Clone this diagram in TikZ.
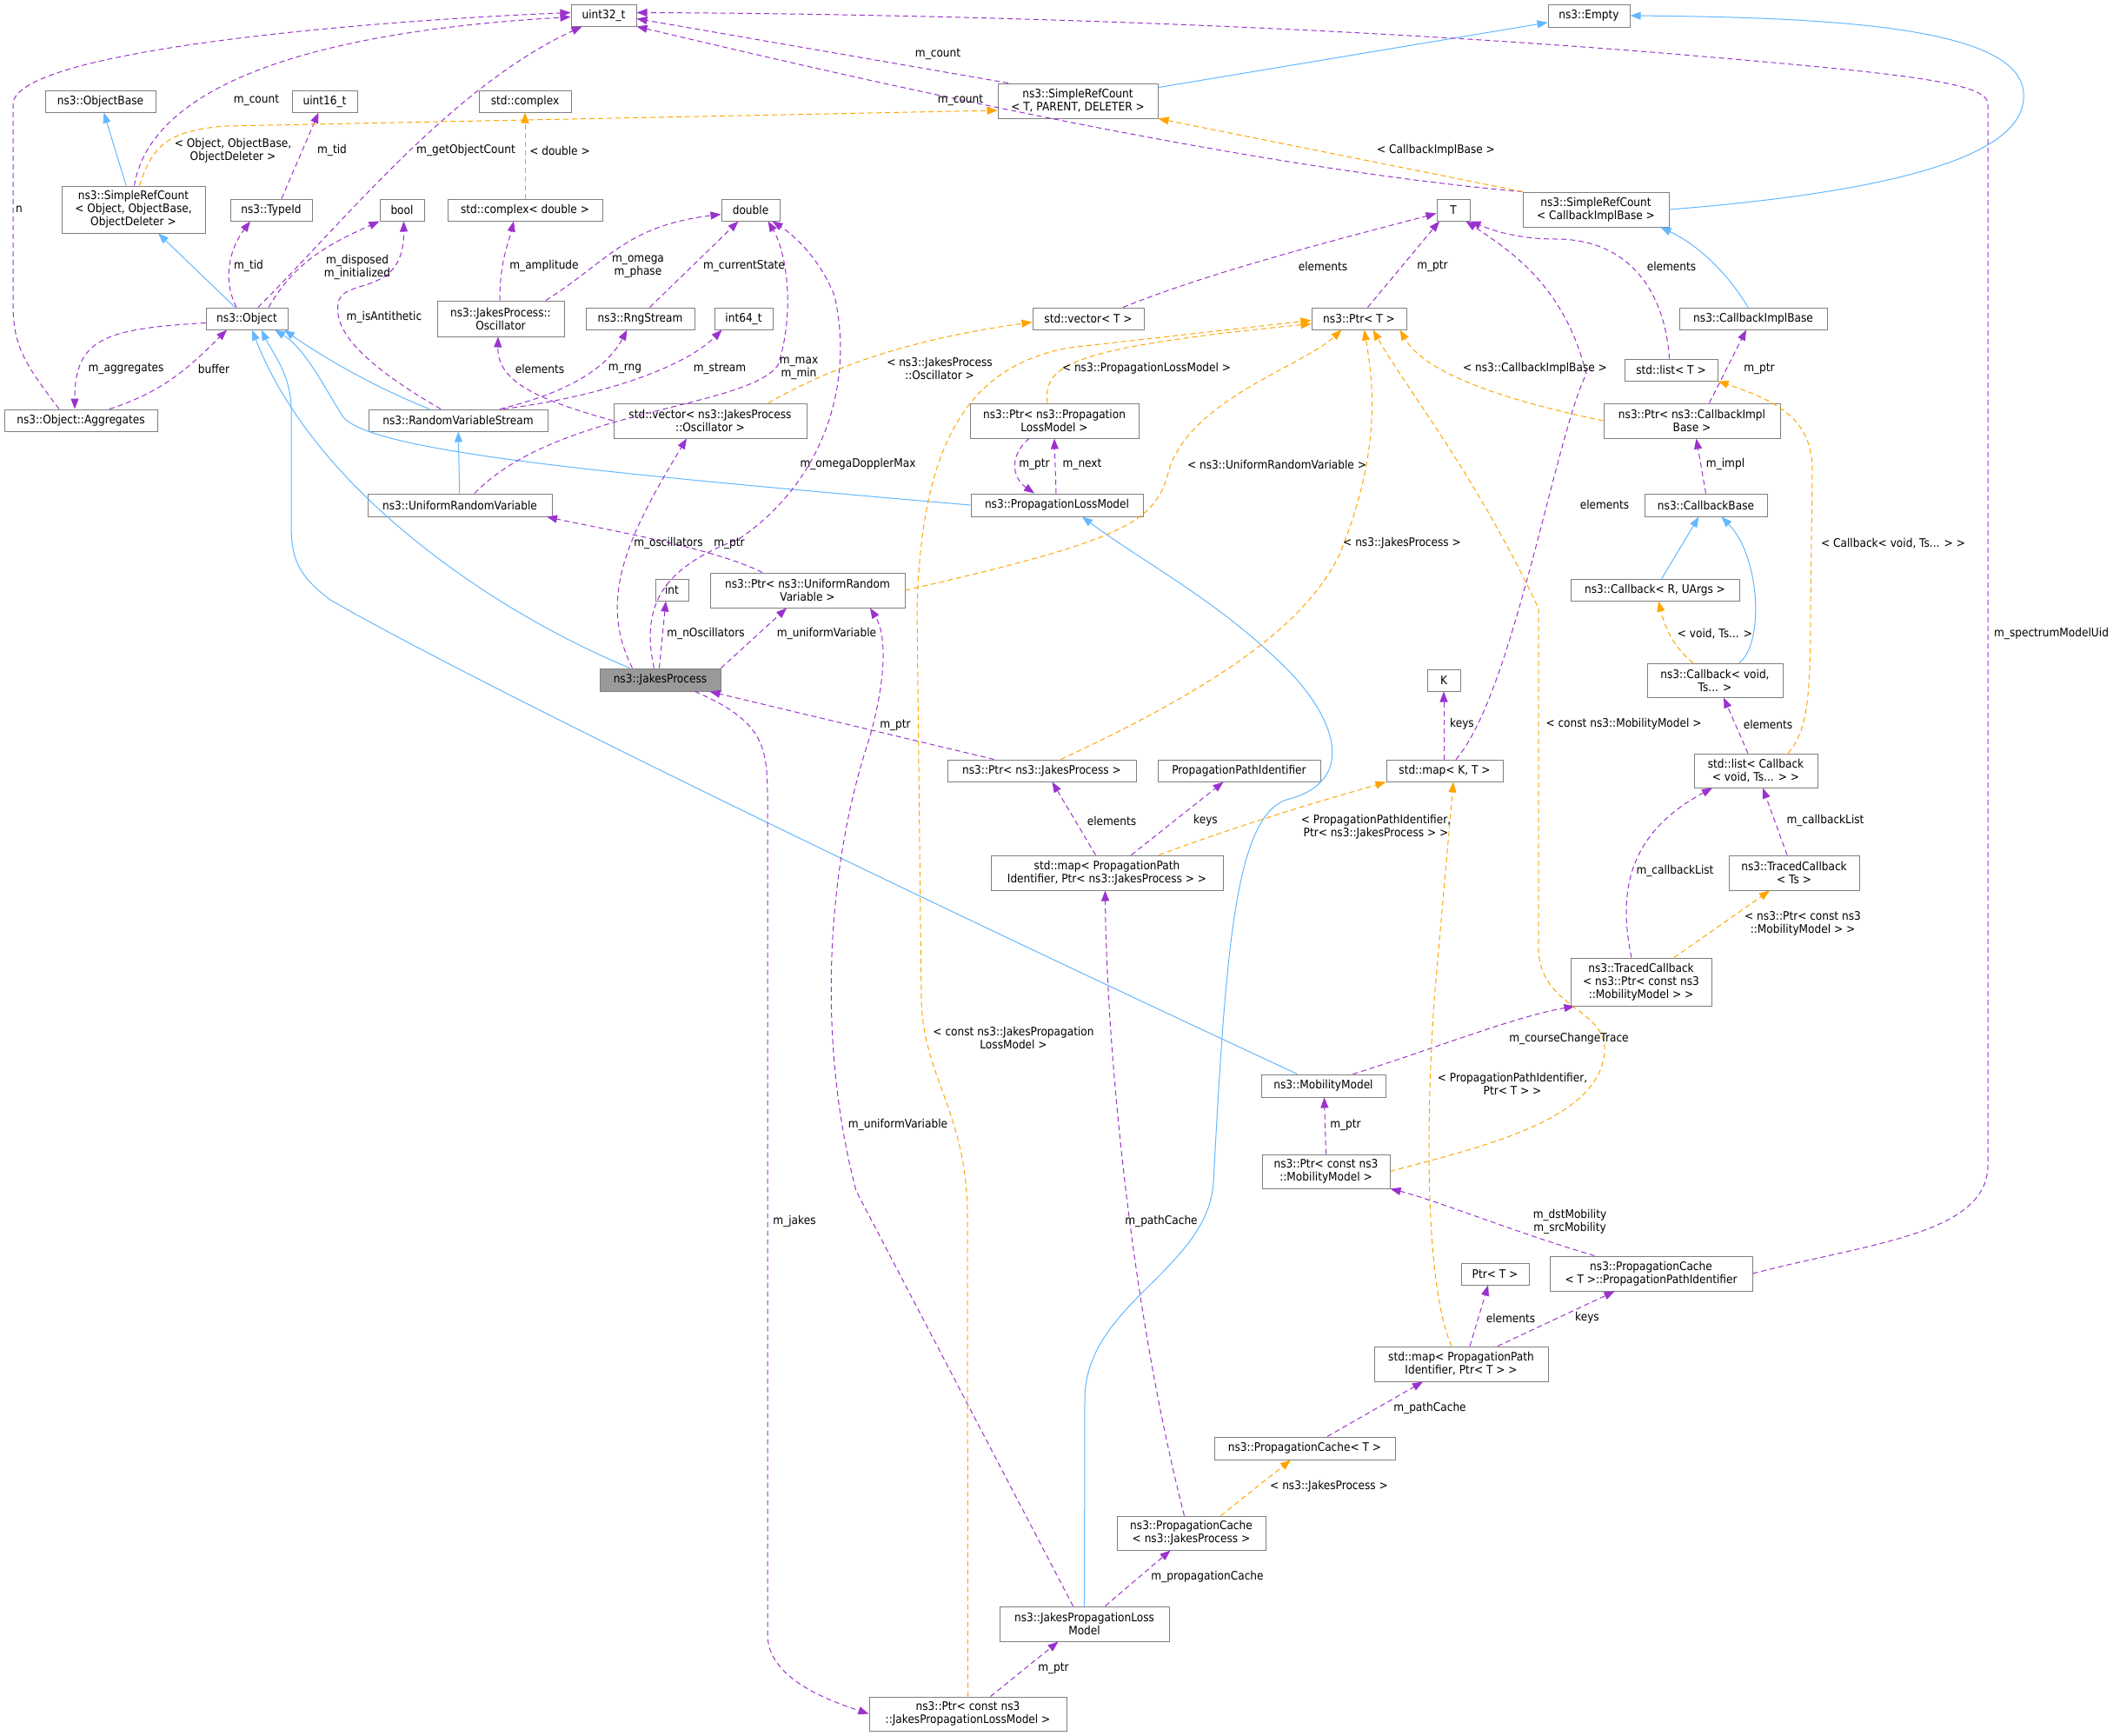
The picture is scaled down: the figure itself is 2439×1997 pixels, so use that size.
\documentclass[tikz,border=0pt]{standalone}
\usepackage{fontspec}
\setmainfont{DejaVu Sans}[FakeStretch=0.9]
\usetikzlibrary{arrows.meta}
\definecolor{dxpurple}{HTML}{9A32CD}
\definecolor{dxorange}{HTML}{FFA500}
\definecolor{dxblue}{HTML}{63B8FF}
\definecolor{dxframe}{HTML}{7F7F7F}
\definecolor{dxfill}{HTML}{999999}

% box from its corners (x1,y1) to (x2,y2), y counted downwards
\newcommand{\dxbox}[7][cls]{\node[#1, minimum width={(#5)-(#3)}, minimum height={(#6)-(#4)}] (#2) at ({((#3)+(#5))/2},{((#4)+(#6))/2}) {#7};}
\newcommand{\dxlabel}[4]{\node[elabel] (#1) at (#2,#3) {#4};}

\begin{document}
\begin{tikzpicture}[
    x=1pt, y=-1pt,
    every node/.style={font=\fontsize{13.5}{15}\selectfont},
    cls/.style={draw=dxframe, line width=1pt, fill=white, inner sep=0pt, align=center},
    clsmain/.style={cls, fill=dxfill},
    elabel/.style={inner sep=0pt, align=center},
    member/.style={draw=dxpurple, line width=1pt, dash pattern=on 6pt off 4pt, -{Triangle[length=12pt,width=9pt]}},
    tmpl/.style={member, draw=dxorange},
    inherit/.style={draw=dxblue, line width=1pt, -{Triangle[length=12pt,width=9pt]}}
    ]
    \fill[white] (0,0) rectangle (2439,1997);
    \useasboundingbox (0,0) rectangle (2439,1997);

    % Nodes
    \dxbox{u32}{657}{5}{732}{30}{uint32\_t}
    \dxbox{empty}{1781}{5}{1875}{31}{ns3::Empty}
    \dxbox{objbase}{52}{104}{179}{129}{ns3::ObjectBase}
    \dxbox{u16}{336}{104}{411}{129}{uint16\_t}
    \dxbox{cpx}{551}{104}{657}{129}{std::complex}
    \dxbox{srctpd}{1148}{96}{1332}{136}{ns3::SimpleRefCount\\< T, PARENT, DELETER >}
    \dxbox{srcobj}{71}{214}{236}{268}{ns3::SimpleRefCount\\< Object, ObjectBase,\\ObjectDeleter >}
    \dxbox{typeid}{265}{229}{359}{254}{ns3::TypeId}
    \dxbox{bool}{437}{229}{488}{254}{bool}
    \dxbox{cpxd}{515}{229}{693}{254}{std::complex< double >}
    \dxbox{double}{830}{229}{897}{254}{double}
    \dxbox{tt}{1653}{229}{1691}{254}{T}
    \dxbox{srccib}{1752}{221}{1920}{261}{ns3::SimpleRefCount\\< CallbackImplBase >}
    \dxbox{object}{237}{354}{331}{379}{ns3::Object}
    \dxbox{osc}{503}{346}{649}{387}{ns3::JakesProcess::\\Oscillator}
    \dxbox{rng}{674}{354}{799}{379}{ns3::RngStream}
    \dxbox{int64}{822}{354}{889}{379}{int64\_t}
    \dxbox{vect}{1188}{354}{1316}{379}{std::vector< T >}
    \dxbox{ptrt}{1509}{354}{1618}{379}{ns3::Ptr< T >}
    \dxbox{cib}{1932}{354}{2102}{379}{ns3::CallbackImplBase}
    \dxbox{listt}{1869}{413}{1976}{438}{std::list< T >}
    \dxbox{agg}{5}{471}{181}{496}{ns3::Object::Aggregates}
    \dxbox{rvs}{424}{471}{630}{496}{ns3::RandomVariableStream}
    \dxbox{vecosc}{706}{464}{928}{504}{std::vector< ns3::JakesProcess\\::Oscillator >}
    \dxbox{ptrplm}{1116}{464}{1310}{504}{ns3::Ptr< ns3::Propagation\\LossModel >}
    \dxbox{ptrcib}{1845}{464}{2048}{504}{ns3::Ptr< ns3::CallbackImpl\\Base >}
    \dxbox{urv}{423}{568}{635}{594}{ns3::UniformRandomVariable}
    \dxbox{plm}{1117}{568}{1315}{594}{ns3::PropagationLossModel}
    \dxbox{cbbase}{1892}{568}{2033}{594}{ns3::CallbackBase}
    \dxbox{ptrurv}{817}{659}{1041}{699}{ns3::Ptr< ns3::UniformRandom\\Variable >}
    \dxbox{int}{754}{666}{792}{691}{int}
    \dxbox{cbru}{1807}{666}{2001}{691}{ns3::Callback< R, UArgs >}
    \dxbox[clsmain]{jp}{690}{769}{829}{795}{ns3::JakesProcess}
    \dxbox{kk}{1642}{770}{1680}{795}{K}
    \dxbox{cbvoid}{1895}{763}{2051}{802}{ns3::Callback< void,\\Ts... >}
    \dxbox{ptrjp}{1090}{874}{1307}{899}{ns3::Ptr< ns3::JakesProcess >}
    \dxbox{ppid}{1332}{874}{1519}{899}{PropagationPathIdentifier}
    \dxbox{mapkt}{1595}{874}{1729}{899}{std::map< K, T >}
    \dxbox{listcb}{1949}{867}{2091}{906}{std::list< Callback\\< void, Ts... > >}
    \dxbox{mapjp}{1140}{984}{1407}{1024}{std::map< PropagationPath\\Identifier, Ptr< ns3::JakesProcess > >}
    \dxbox{tcts}{1989}{984}{2139}{1024}{ns3::TracedCallback\\< Ts >}
    \dxbox{tcmm}{1807}{1102}{1969}{1157}{ns3::TracedCallback\\< ns3::Ptr< const ns3\\::MobilityModel > >}
    \dxbox{mm}{1451}{1236}{1594}{1262}{ns3::MobilityModel}
    \dxbox{pmm}{1452}{1328}{1599}{1367}{ns3::Ptr< const ns3\\::MobilityModel >}
    \dxbox{ptt}{1681}{1453}{1759}{1478}{Ptr< T >}
    \dxbox{ppi}{1783}{1445}{2016}{1485}{ns3::PropagationCache\\< T >::PropagationPathIdentifier}
    \dxbox{mappt}{1581}{1549}{1781}{1589}{std::map< PropagationPath\\Identifier, Ptr< T > >}
    \dxbox{pct}{1397}{1653}{1605}{1679}{ns3::PropagationCache< T >}
    \dxbox{pcjp}{1285}{1744}{1456}{1783}{ns3::PropagationCache\\< ns3::JakesProcess >}
    \dxbox{jplm}{1150}{1848}{1345}{1888}{ns3::JakesPropagationLoss\\Model}
    \dxbox{ptrcjplm}{1000}{1952}{1227}{1991}{ns3::Ptr< const ns3\\::JakesPropagationLossModel >}

    % Inheritance
    \draw[inherit] (srctpd) -- (empty);
    \draw[inherit] (srccib.east) .. controls (2250,215) and (2340,160) .. (2327,100) .. controls (2310,30) and (2100,20) .. (empty.east);
    \draw[inherit] (srcobj) -- (objbase);
    \draw[inherit] (object) -- (srcobj);
    \draw[inherit] ([xshift=-33pt]rvs.north) .. controls (430,445) and (370,410) .. ([xshift=43pt]object.south);
    \draw[inherit] (plm.west) .. controls (700,545) and (430,520) .. (395,480) .. controls (370,440) and (350,400) .. ([xshift=32pt]object.south);
    \draw[inherit] ([xshift=-30pt]mm.north) .. controls (900,960) and (500,760) .. (380,690) .. controls (340,660) and (335,640) .. (335,600) -- (335,470) .. controls (335,430) and (310,400) .. ([xshift=17pt]object.south);
    \draw[inherit] ([xshift=-35pt]jp.north) .. controls (560,700) and (360,560) .. ([xshift=6pt]object.south);
    \draw[inherit] (urv) -- (rvs);
    \draw[inherit] (jplm.north) -- (1248,1610) .. controls (1248,1500) and (1390,1460) .. (1396,1360) .. controls (1410,1100) and (1420,940) .. (1480,920) .. controls (1560,900) and (1540,830) .. (1480,769) .. controls (1400,690) and (1320,650) .. ([xshift=29pt]plm.south);
    \draw[inherit] ([xshift=-6pt]cib.north) .. controls (1985,310) and (1950,280) .. ([xshift=-10pt]srccib.south east);
    \draw[inherit] (cbru) -- (cbbase);
    \draw[inherit] ([xshift=28pt]cbvoid.north) .. controls (2030,740) and (2025,640) .. ([xshift=18pt]cbbase.south);

    % Members
    \draw[member] ([xshift=-80pt]srctpd.north) -- ([yshift=-4pt]u32.east);
    \draw[member] (srccib.north west) .. controls (1400,190) and (900,70) .. (u32.south east);
    \draw[member] ([xshift=1pt]srcobj.north) .. controls (170,120) and (300,40) .. ([yshift=-2pt]u32.west);
    \draw[member] ([xshift=-25pt]agg.north) .. controls (30,420) and (15,400) .. (15,350) -- (15,120) .. controls (15,60) and (400,25) .. ([yshift=3pt]u32.west);
    \draw[member] ([xshift=13pt]object.north) .. controls (400,250) and (520,100) .. ([xshift=-25pt]u32.south);
    \draw[member] ([xshift=-12pt]object.north) .. controls (255,320) and (265,285) .. ([xshift=-24pt]typeid.south);
    \draw[member] ([xshift=12pt]typeid.north) -- ([xshift=-7pt]u16.south);
    \draw[member] ([xshift=25pt]object.north) .. controls (340,300) and (380,280) .. (bool.south west);
    \draw[member] ([xshift=-20pt]rvs.north) .. controls (420,420) and (380,380) .. (390,345) .. controls (400,320) and (465,340) .. ([xshift=2pt]bool.south);
    \draw[member] ([xshift=-1pt]osc.north) .. controls (575,300) and (585,280) .. ([xshift=-13pt]cpxd.south);
    \draw[member] ([xshift=52pt]osc.north) .. controls (700,300) and (720,260) .. ([yshift=-5pt]double.west);
    \draw[member] ([xshift=11pt]rng.north) -- ([xshift=-14pt]double.south);
    \draw[member] ([xshift=48pt]rvs.north) .. controls (660,450) and (700,420) .. ([xshift=-15pt]rng.south);
    \draw[member] ([xshift=52pt]rvs.north) .. controls (700,455) and (790,420) .. ([xshift=-25pt]int64.south);
    \draw[member] ([xshift=17pt]urv.north) .. controls (640,470) and (860,470) .. (895,420) .. controls (915,360) and (905,290) .. ([xshift=20pt]double.south);
    \draw[member] (vecosc.west) .. controls (620,460) and (572,440) .. ([xshift=-3pt]osc.south);
    \draw[member] ([xshift=-32pt]jp.north) .. controls (688,690) and (720,620) .. ([xshift=-27pt]vecosc.south);
    \draw[member] ([xshift=-7pt]jp.north) .. controls (735,690) and (770,650) .. (850,620) .. controls (940,560) and (985,450) .. (960,340) .. controls (940,290) and (905,265) .. ([xshift=25pt]double.south);
    \draw[member] ([xshift=-52pt]ptrurv.north) .. controls (820,630) and (700,610) .. ([xshift=100pt]urv.south);
    \draw[member] ([xshift=-1pt]jp.north) -- ([xshift=-7pt]int.south);
    \draw[member] (jp.north east) -- ([xshift=-24pt]ptrurv.south);
    \draw[member] ([xshift=-55pt]ptrjp.north) -- ([xshift=-13pt]jp.south east);
    \draw[member] ([xshift=40pt]jp.south) .. controls (880,830) and (883,860) .. (883,920) -- (883,1880) .. controls (883,1930) and (950,1955) .. (ptrcjplm.west);
    \draw[member] ([xshift=-13pt]jplm.north) -- (985,1370) .. controls (940,1200) and (950,1000) .. (1000,850) .. controls (1020,780) and (1020,730) .. ([xshift=72pt]ptrurv.south);
    \draw[member] ([xshift=26pt]ptrcjplm.north) -- ([xshift=-30pt]jplm.south);
    \draw[member] ([xshift=24pt]jplm.north) -- ([xshift=-24pt]pcjp.south);
    \draw[member] ([xshift=-8pt]pcjp.north) .. controls (1300,1500) and (1273,1200) .. ([xshift=-2pt]mapjp.south);
    \draw[member] ([xshift=-13pt]mapjp.north) -- ([xshift=12pt]ptrjp.south);
    \draw[member] ([xshift=28pt]mapjp.north) -- ([xshift=-18pt]ppid.south);
    \draw[member] ([xshift=-29pt]ptrplm.south) .. controls (1160,525) and (1165,550) .. ([xshift=-26pt]plm.north);
    \draw[member] ([xshift=-1pt]plm.north) -- (ptrplm.south);
    \draw[member] ([xshift=40pt]vect.north) .. controls (1400,310) and (1560,270) .. ([yshift=-4pt]tt.west);
    \draw[member] ([xshift=10pt]ptrt.north) -- ([xshift=-16pt]tt.south);
    \draw[member] ([xshift=-2pt]listt.north) .. controls (1915,330) and (1870,275) .. (1790,275) .. controls (1740,275) and (1710,262) .. (tt.south east);
    \draw[member] ([xshift=13pt]mapkt.north) .. controls (1740,800) and (1790,500) .. (1825,430) .. controls (1800,330) and (1740,290) .. ([xshift=-5pt]tt.south east);
    \draw[member] ([xshift=-1pt]mapkt.north) -- (kk.south);
    \draw[member] ([xshift=20pt]ptrcib.north) -- ([xshift=-8pt]cib.south);
    \draw[member] (cbbase.north) -- ([xshift=5pt]ptrcib.south);
    \draw[member] ([xshift=-9pt]listcb.north) -- ([xshift=10pt]cbvoid.south);
    \draw[member] ([xshift=-8pt]tcts.north) -- ([xshift=8pt]listcb.south);
    \draw[member] ([xshift=-11pt]tcmm.north) .. controls (1862,1030) and (1870,960) .. ([xshift=-50pt]listcb.south);
    \draw[member] ([xshift=34pt]mm.north) .. controls (1640,1210) and (1740,1170) .. ([xshift=5pt]tcmm.south west);
    \draw[member] (pmm.north) -- ([xshift=1pt]mm.south);
    \draw[member] ([xshift=-65pt]ppi.north) .. controls (1750,1420) and (1650,1380) .. (pmm.south east);
    \draw[member] (ppi.east) .. controls (2150,1430) and (2287,1420) .. (2287,1340) -- (2287,120) .. controls (2287,95) and (2200,85) .. (1900,60) .. controls (1400,20) and (900,15) .. ([yshift=3pt]u32.east);
    \draw[member] ([xshift=10pt]mappt.north) -- ([xshift=-8pt]ptt.south);
    \draw[member] ([xshift=42pt]mappt.north) -- ([xshift=-42pt]ppi.south);
    \draw[member] ([xshift=26pt]pct.north) -- ([xshift=-44pt]mappt.south);
    \draw[member] ([yshift=-5pt]object.west) .. controls (120,378) and (86,390) .. ([xshift=-7pt]agg.north);
    \draw[member] ([xshift=33pt]agg.north) .. controls (190,450) and (220,420) .. ([xshift=-23pt]object.south);

    % Template instances
    \draw[tmpl] ([xshift=7pt]srcobj.north) .. controls (175,170) and (190,150) .. (260,145) -- ([yshift=-11pt]srctpd.west);
    \draw[tmpl] (srccib.north west) -- (srctpd.south east);
    \draw[tmpl] (cpxd) -- (cpx);
    \draw[tmpl] ([xshift=67pt]vecosc.north) .. controls (960,420) and (1050,390) .. ([yshift=-4pt]vect.west);
    \draw[tmpl] ([xshift=-8pt]ptrplm.north) .. controls (1200,420) and (1230,400) .. ([yshift=-6pt]ptrt.west);
    \draw[tmpl] (ptrurv.east) .. controls (1300,620) and (1330,600) .. (1345,540) .. controls (1370,460) and (1500,420) .. ([xshift=-20pt]ptrt.south);
    \draw[tmpl] ([xshift=22pt]ptrjp.north) .. controls (1400,790) and (1500,720) .. (1540,640) .. controls (1590,520) and (1580,440) .. ([xshift=6pt]ptrt.south);
    \draw[tmpl] (ptrcib.west) .. controls (1730,460) and (1640,430) .. ([xshift=-8pt]ptrt.south east);
    \draw[tmpl] (ptrcjplm.north) -- (1113,1400) .. controls (1113,1280) and (1062,1240) .. (1060,1150) -- (1055,700) .. controls (1060,500) and (1120,420) .. (1230,400) -- ([yshift=-2pt]ptrt.west);
    \draw[tmpl] (pmm.east) .. controls (1700,1320) and (1840,1290) .. (1846,1210) .. controls (1850,1160) and (1770,1160) .. (1770,1090) -- (1770,700) .. controls (1700,550) and (1620,450) .. ([xshift=16pt]ptrt.south);
    \draw[tmpl] ([xshift=60pt]mapjp.north) .. controls (1450,940) and (1560,910) .. (mapkt.south west);
    \draw[tmpl] ([xshift=-11pt]mappt.north) .. controls (1640,1480) and (1640,1300) .. (1650,1150) -- ([xshift=10pt]mapkt.south);
    \draw[tmpl] ([xshift=-25pt]cbvoid.north) .. controls (1925,745) and (1915,720) .. ([xshift=4pt]cbru.south);
    \draw[tmpl] ([xshift=37pt]listcb.north) .. controls (2080,840) and (2083,800) .. (2083,700) -- (2085,540) .. controls (2085,480) and (2040,460) .. (listt.south east);
    \draw[tmpl] ([xshift=38pt]tcmm.north) -- ([xshift=-28pt]tcts.south);
    \draw[tmpl] ([xshift=34pt]pcjp.north) -- ([xshift=-16pt]pct.south);

    % Labels
    \dxlabel{la1}{295}{115}{m\_count}
    \dxlabel{la2}{268}{173}{< Object, ObjectBase,\\ObjectDeleter >}
    \dxlabel{la3}{382}{173}{m\_tid}
    \dxlabel{la4}{536}{173}{m\_getObjectCount}
    \dxlabel{la5}{644}{173}{< double >}
    \dxlabel{la6}{22}{241}{n}
    \dxlabel{la7}{286}{306}{m\_tid}
    \dxlabel{la8}{411}{307}{m\_disposed\\m\_initialized}
    \dxlabel{la9}{626}{306}{m\_amplitude}
    \dxlabel{la10}{734}{307}{m\_omega\\m\_phase}
    \dxlabel{la11}{442}{365}{m\_isAntithetic}
    \dxlabel{la12}{145}{424}{m\_aggregates}
    \dxlabel{la13}{246}{424}{buffer}
    \dxlabel{la14}{621}{424}{elements}
    \dxlabel{la15}{719}{424}{m\_rng}
    \dxlabel{la16}{769}{625}{m\_oscillators}
    \dxlabel{lb1}{1079}{62}{m\_count}
    \dxlabel{lb2}{1105}{115}{m\_count}
    \dxlabel{lb3}{856}{306}{m\_currentState}
    \dxlabel{lb4}{828}{424}{m\_stream}
    \dxlabel{lb5}{919}{424}{m\_max\\m\_min}
    \dxlabel{lb6}{1081}{424}{< ns3::JakesProcess\\::Oscillator >}
    \dxlabel{lb7}{1319}{424}{< ns3::PropagationLossModel >}
    \dxlabel{lb8}{1522}{306}{elements}
    \dxlabel{lb9}{987}{534}{m\_omegaDopplerMax}
    \dxlabel{lb10}{1190}{534}{m\_ptr}
    \dxlabel{lb11}{1245}{534}{m\_next}
    \dxlabel{lb12}{1469}{534}{< ns3::UniformRandomVariable >}
    \dxlabel{lb13}{839}{625}{m\_ptr}
    \dxlabel{lb14}{1613}{625}{< ns3::JakesProcess >}
    \dxlabel{lb15}{1652}{173}{< CallbackImplBase >}
    \dxlabel{lc1}{1648}{306}{m\_ptr}
    \dxlabel{lc2}{1923}{306}{elements}
    \dxlabel{lc3}{1766}{424}{< ns3::CallbackImplBase >}
    \dxlabel{lc4}{2024}{424}{m\_ptr}
    \dxlabel{lc5}{1985}{534}{m\_impl}
    \dxlabel{lc6}{1846}{580}{elements}
    \dxlabel{lc7}{2178}{625}{< Callback< void, Ts... > >}
    \dxlabel{ld1}{812}{729}{m\_nOscillators}
    \dxlabel{ld2}{951}{729}{m\_uniformVariable}
    \dxlabel{ld3}{1030}{834}{m\_ptr}
    \dxlabel{ld4}{1279}{944}{elements}
    \dxlabel{ld5}{1387}{944}{keys}
    \dxlabel{ld6}{1583}{951}{< PropagationPathIdentifier,\\Ptr< ns3::JakesProcess > >}
    \dxlabel{ld7}{1166}{1194}{< const ns3::JakesPropagation\\LossModel >}
    \dxlabel{ld8}{1033}{1294}{m\_uniformVariable}
    \dxlabel{ld9}{1548}{1294}{m\_ptr}
    \dxlabel{le1}{1682}{833}{keys}
    \dxlabel{le2}{1868}{833}{< const ns3::MobilityModel >}
    \dxlabel{le3}{1973}{729}{< void, Ts... >}
    \dxlabel{le4}{2034}{833}{elements}
    \dxlabel{le5}{2360}{729}{m\_spectrumModelUid}
    \dxlabel{le6}{2100}{944}{m\_callbackList}
    \dxlabel{le7}{1927}{1002}{m\_callbackList}
    \dxlabel{le8}{2074}{1062}{< ns3::Ptr< const ns3\\::MobilityModel > >}
    \dxlabel{le9}{1805}{1195}{m\_courseChangeTrace}
    \dxlabel{le10}{1740}{1247}{< PropagationPathIdentifier,\\Ptr< T > >}
    \dxlabel{lf1}{914}{1405}{m\_jakes}
    \dxlabel{lf2}{1336}{1405}{m\_pathCache}
    \dxlabel{lf3}{1529}{1710}{< ns3::JakesProcess >}
    \dxlabel{lf4}{1389}{1814}{m\_propagationCache}
    \dxlabel{lf5}{1212}{1919}{m\_ptr}
    \dxlabel{lf6}{1806}{1405}{m\_dstMobility\\m\_srcMobility}
    \dxlabel{lf7}{1738}{1516}{elements}
    \dxlabel{lf8}{1826}{1516}{keys}
    \dxlabel{lf9}{1645}{1620}{m\_pathCache}
\end{tikzpicture}
\end{document}
